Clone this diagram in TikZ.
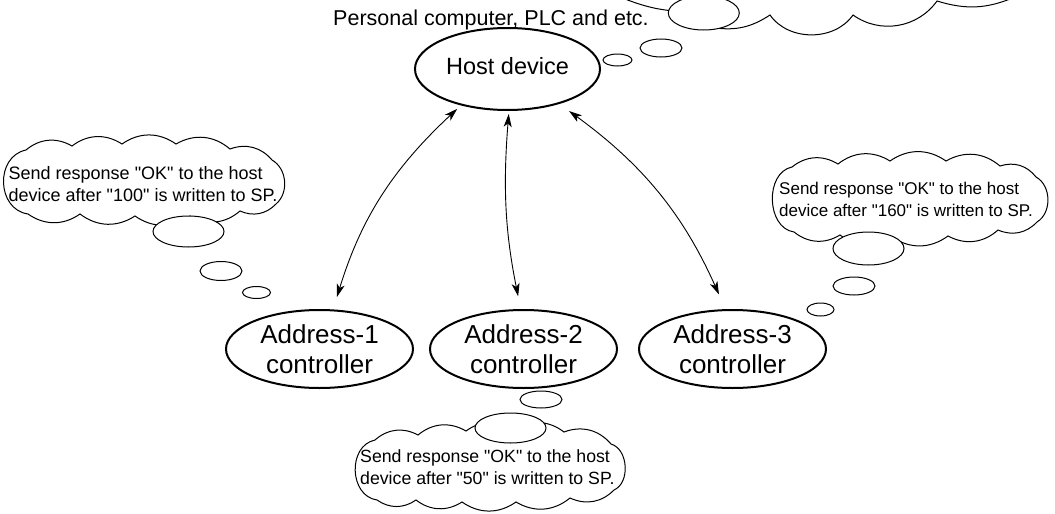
\documentclass[tikz,border=0pt]{standalone}
\usepackage{fontspec}
\setmainfont{Liberation Sans}
\newfontfamily\plainlib{Liberation Sans}
\usetikzlibrary{arrows.meta,shapes.geometric}
\begin{document}
\begin{tikzpicture}[x=1pt,y=1pt,
  thickell/.style={ellipse, draw, line width=2pt, inner sep=0pt, fill=white},
  bubble/.style={ellipse, draw, line width=1pt, fill=white, inner sep=0pt},
  cloudline/.style={draw, line width=1pt, fill=white},
  cloudtext/.style={anchor=north west, inner sep=0pt, align=left},
  ctrl/.style={thickell, minimum width=187pt, minimum height=78pt, align=center, font=\fontsize{26}{30}\selectfont},
  tip/.tip={Stealth[length=13pt,width=8pt,inset=3.5pt]},
  biarrow/.style={tip-tip, line width=0.9pt},
  sc/.style={bend left=35}
]
\useasboundingbox (0,0) rectangle (1055,-514);
\begin{scope}
\clip (0,0) rectangle (1055,-514);
% top-right cloud (mostly outside the picture)
\draw[cloudline] (600,40) -- (1060,40) -- (1060,8) -- (1015,3)
  to[bend left=20] (937,-1) to[bend left=45] (853,-15)
  to[bend left=55] (770,-15) to[bend left=20] (715,-28)
  -- (690,-12) to[bend left=10] (620,3) -- cycle;
\node[bubble, minimum width=71pt, minimum height=34pt] (btr) at (703.8,-13) {};
\end{scope}

% left cloud
\draw[cloudline] (26,-150) to[sc] (72,-146) to[sc] (122,-144) to[sc] (176,-144)
  to[sc] (230,-149) to[sc] (272,-160) to[bend left=55] (276,-204)
  to[sc] (240,-211) to[sc] (190,-216) to[sc] (135,-216) to[sc] (80,-214)
  to[sc] (28,-214) to[bend left=80, looseness=1.27] (26,-150) -- cycle;
% right cloud
\draw[cloudline] (792,-167) to[sc] (838,-164) to[sc] (890,-161) to[sc] (946,-161)
  to[sc] (1000,-166) to[sc] (1036,-177) to[bend left=60] (1037,-222)
  to[sc] (998,-230) to[sc] (948,-236) to[sc] (892,-237) to[sc] (840,-235)
  to[sc] (794,-232) to[bend left=80, looseness=1.1] (792,-167) -- cycle;
% bottom cloud
\draw[cloudline] (375,-440) to[sc] (418,-435) to[sc] (466,-431) to[sc] (514,-430)
  to[sc] (564,-432) to[sc] (611,-444) to[bend left=70] (614,-490)
  to[sc] (570,-498) to[sc] (516,-502) to[sc] (462,-502) to[sc] (416,-500)
  to[sc] (377,-500) to[bend left=80, looseness=1.2] (375,-440) -- cycle;

% bubbles
\node[bubble, minimum width=71pt, minimum height=31pt] (bl1) at (188.5,-231.5) {};
\node[bubble, minimum width=42pt, minimum height=19pt] (bl2) at (221,-271) {};
\node[bubble, minimum width=28pt, minimum height=12pt] (bl3) at (256.5,-292.5) {};
\node[bubble, minimum width=71pt, minimum height=33pt] (br1) at (868.5,-248.5) {};
\node[bubble, minimum width=42pt, minimum height=18pt] (br2) at (854,-286) {};
\node[bubble, minimum width=27pt, minimum height=13pt] (br3) at (820.5,-309.5) {};
\node[bubble, minimum width=71pt, minimum height=30pt] (bb1) at (510.5,-428) {};
\node[bubble, minimum width=42pt, minimum height=17pt] (bb2) at (541,-399.5) {};
\node[bubble, minimum width=29pt, minimum height=12pt] (bh1) at (617.5,-60) {};
\node[bubble, minimum width=42pt, minimum height=18pt] (bh2) at (661,-48) {};

% cloud texts
\node[cloudtext, font=\plainlib\fontsize{18}{22.5}\selectfont] (tl) at (8.5,-166)
  {Send response "OK" to the host\\device after "100" is written to SP.};
\node[cloudtext, font=\plainlib\fontsize{17}{22.5}\selectfont] (tr) at (779,-181.6)
  {Send response "OK" to the host\\device after "160" is written to SP.};
\node[cloudtext, font=\plainlib\fontsize{17.7}{22.5}\selectfont] (tb) at (360,-449)
  {Send response "OK" to the host\\device after "50" is written to SP.};

% main nodes
\node[font=\fontsize{21.5}{25}\selectfont, anchor=base, inner sep=0pt] (pc) at (491,-25)
  {Personal computer, PLC and etc.};
\node[thickell, minimum width=185pt, minimum height=82pt,
  font=\fontsize{23.5}{28}\selectfont, text depth=7pt] (host) at (507.5,-69) {Host device};
\node[ctrl] (a1) at (319.5,-349) {Address-1\\controller};
\node[ctrl] (a2) at (523.5,-349) {Address-2\\controller};
\node[ctrl] (a3) at (732.5,-349) {Address-3\\controller};

% connectors
\draw[biarrow, shorten <=5pt, shorten >=13pt] (host.218) to[bend right=15] (a1.71);
\draw[biarrow, shorten <=3pt, shorten >=13pt] (host.272) to[bend right=8] (a2.94);
\draw[biarrow, shorten <=12pt, shorten >=16pt] (host.326) to[bend left=15] (a3.100);
\end{tikzpicture}
\end{document}
